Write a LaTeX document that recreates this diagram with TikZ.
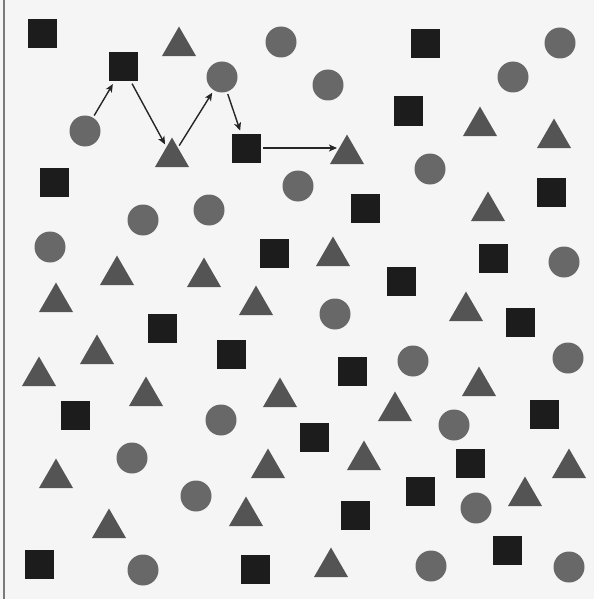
\documentclass[tikz,border=0pt]{standalone}
\usetikzlibrary{shapes.geometric,arrows.meta}
\definecolor{bg}{HTML}{F5F5F5}
\definecolor{sqc}{HTML}{1C1C1C}
\definecolor{cic}{HTML}{686868}
\definecolor{trc}{HTML}{545454}
\definecolor{edgec}{HTML}{7A7A7A}
\tikzset{
  sq/.style={rectangle,fill=sqc,minimum size=29pt,inner sep=0pt,outer sep=0pt},
  ci/.style={circle,fill=cic,minimum size=31pt,inner sep=0pt,outer sep=0pt},
  tr/.style={regular polygon,regular polygon sides=3,fill=trc,minimum size=39.3pt,inner sep=0pt,outer sep=0pt},
  arr/.style={-{Stealth[length=8pt,width=7pt,inset=2pt]},line width=1.4pt,color=black!85,shorten <=2.5pt,shorten >=3pt}
}
\newcommand{\SQ}[3]{\node[sq] (#1) at (#2pt,-#3pt) {};}
\newcommand{\CI}[3]{\node[ci] (#1) at (#2pt,-#3pt) {};}
% triangle given by base centre
\newcommand{\TR}[3]{\node[tr] (#1) at (#2pt,{-(#3-9.8)*1pt}) {};}
\begin{document}
\begin{tikzpicture}[x=1pt,y=1pt]
\fill[bg] (0,0) rectangle (594,-599);
\useasboundingbox (0,0) rectangle (594,-599);
\draw[edgec,line width=2pt] (3.5,0) -- (3.5,-599);
% squares
\SQ{s1}{42}{34}
\SQ{s2}{425}{44}
\SQ{s3}{123}{67}
\SQ{s4}{408}{111}
\SQ{s5}{246}{148}
\SQ{s6}{54}{182}
\SQ{s7}{551}{192}
\SQ{s8}{365}{208}
\SQ{s9}{274}{253}
\SQ{s10}{493}{258}
\SQ{s11}{401}{281}
\SQ{s12}{520}{322}
\SQ{s13}{162}{328}
\SQ{s14}{231}{354}
\SQ{s15}{352}{371}
\SQ{s16}{75}{415}
\SQ{s17}{544}{414}
\SQ{s18}{314}{437}
\SQ{s19}{470}{463}
\SQ{s20}{420}{491}
\SQ{s21}{355}{515}
\SQ{s22}{507}{550}
\SQ{s23}{39}{564}
\SQ{s24}{255}{569}
% circles
\CI{c1}{281}{42}
\CI{c2}{560}{43}
\CI{c3}{222}{77}
\CI{c4}{328}{85}
\CI{c5}{513}{77}
\CI{c6}{85}{131}
\CI{c7}{430}{169}
\CI{c8}{298}{186}
\CI{c9}{143}{220}
\CI{c10}{209}{210}
\CI{c11}{50}{247}
\CI{c12}{564}{262}
\CI{c13}{335}{314}
\CI{c14}{413}{361}
\CI{c15}{568}{358}
\CI{c16}{221}{420}
\CI{c17}{454}{425}
\CI{c18}{132}{458}
\CI{c19}{196}{496}
\CI{c20}{476}{508}
\CI{c21}{143}{570}
\CI{c22}{431}{566}
\CI{c23}{569}{567}
% triangles
\TR{t1}{179}{56}
\TR{t2}{480}{136}
\TR{t3}{554}{148}
\TR{t4}{172}{167}
\TR{t5}{347}{164}
\TR{t6}{488}{221}
\TR{t7}{333}{266}
\TR{t8}{117}{285}
\TR{t9}{204}{287}
\TR{t10}{56}{312}
\TR{t11}{256}{315}
\TR{t12}{466}{321}
\TR{t13}{97}{364}
\TR{t14}{39}{386}
\TR{t15}{479}{396}
\TR{t16}{146}{406}
\TR{t17}{280}{407}
\TR{t18}{395}{421}
\TR{t19}{56}{488}
\TR{t20}{268}{478}
\TR{t21}{364}{470}
\TR{t22}{569}{478}
\TR{t23}{525}{506}
\TR{t24}{246}{526}
\TR{t25}{109}{538}
\TR{t26}{331}{577}
% arrows
\draw[arr] (c6) -- (s3);
\draw[arr] (s3) -- (t4);
\draw[arr] (t4) -- (c3);
\draw[arr] (c3) -- (s5);
\draw[arr,shorten >=1.5pt] (s5.east) -- (s5.east -| t5.side 1);
\end{tikzpicture}
\end{document}
